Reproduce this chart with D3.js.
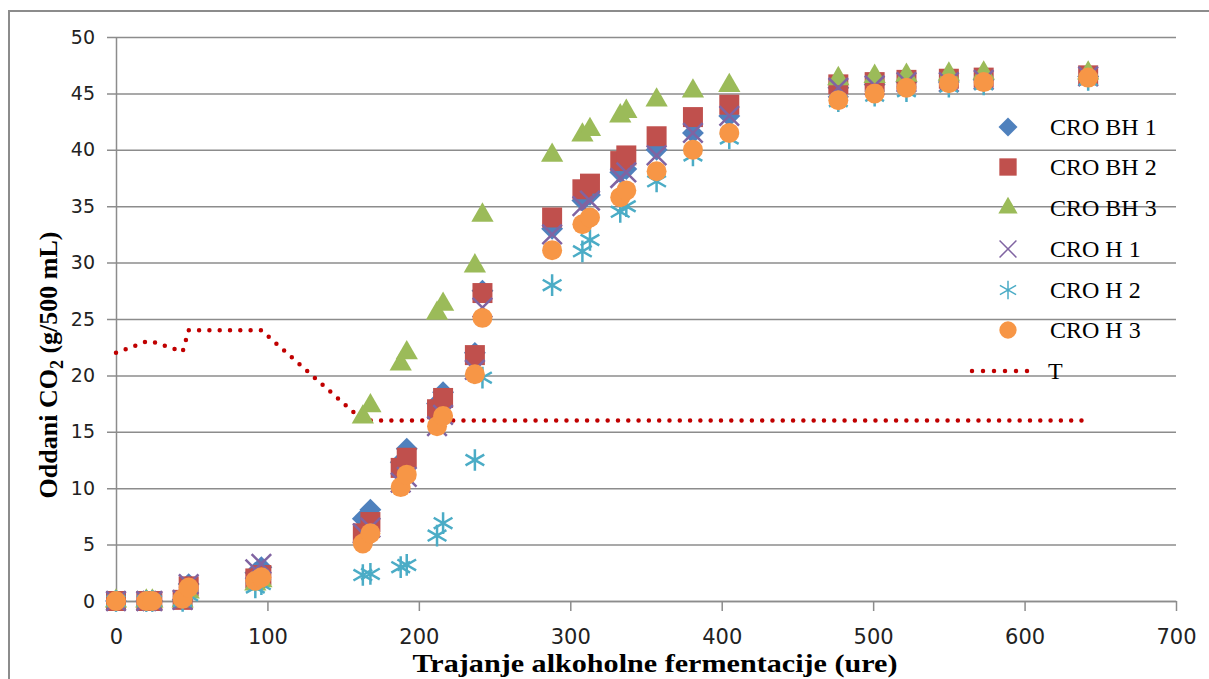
<!DOCTYPE html>
<html>
<head>
<meta charset="utf-8">
<script src="https://cdn.jsdelivr.net/npm/d3@7"></script>
<style>
  body { margin: 0; background: #fff; }
  svg { display: block; }
</style>
</head>
<body>
<svg id="chart" width="1209" height="679"></svg>
<script>
// measurement times (hours)
let hours = [0, 20, 24, 44, 48, 92, 96, 163, 168, 188, 192, 212, 216, 237, 242, 288, 308, 313, 333, 337, 357, 381, 405, 477, 501, 522, 550, 573, 642];

// released CO2 (g/500 mL)
let cro_bh1 = [0, 0, 0, 0.1, 1.5, 2.5, 3.0, 7.3, 8.1, 12.3, 13.5, 17.5, 18.5, 22.0, 27.5, 33.0, 35.5, 36.0, 38.0, 38.3, 40.0, 41.5, 43.0, 45.5, 45.8, 46.0, 46.0, 46.2, 46.5];
let cro_bh2 = [0, 0, 0, 0.1, 1.3, 2.0, 2.3, 6.0, 7.0, 11.8, 12.7, 17.0, 18.0, 21.8, 27.3, 34.0, 36.5, 37.0, 39.0, 39.5, 41.2, 42.9, 44.0, 45.8, 46.0, 46.2, 46.3, 46.4, 46.6];
let cro_bh3 = [0, 0, 0, 0, 0.8, 1.5, 1.8, 16.3, 17.3, 21.0, 22.0, 25.5, 26.3, 29.7, 34.2, 39.5, 41.3, 41.8, 43.0, 43.4, 44.4, 45.2, 45.7, 46.3, 46.5, 46.6, 46.7, 46.8, 46.8];
let cro_h1 = [0, 0, 0, 0.1, 1.5, 2.8, 3.3, 6.0, 6.5, 10.5, 11.0, 15.5, 16.5, 20.5, 26.0, 32.5, 35.0, 35.5, 37.5, 38.0, 39.5, 41.5, 43.0, 45.5, 45.7, 46.0, 46.0, 46.2, 46.5];
let cro_h2 = [0, 0, 0, 0, 0.5, 1.2, 1.5, 2.3, 2.4, 3.0, 3.2, 5.8, 6.9, 12.5, 19.8, 28.0, 31.0, 32.0, 34.5, 35.0, 37.2, 39.5, 41.0, 44.3, 44.8, 45.2, 45.6, 45.8, 46.2];
let cro_h3 = [0, 0, 0, 0.2, 1.2, 1.8, 2.1, 5.1, 6.0, 10.1, 11.2, 15.5, 16.4, 20.1, 25.1, 31.1, 33.4, 34.0, 35.8, 36.4, 38.1, 40.0, 41.5, 44.4, 45.0, 45.5, 45.9, 46.0, 46.4];

// temperature line T
let temp_hours = [0, 20, 24, 44, 48, 92, 96, 163, 168, 642];
let temp_vals = [22, 23, 23, 22.1, 24, 24, 24, 16, 16, 16];

let series_names = ['CRO BH 1', 'CRO BH 2', 'CRO BH 3', 'CRO H 1', 'CRO H 2', 'CRO H 3'];
let x_ticks = [0, 100, 200, 300, 400, 500, 600, 700];
let y_ticks = [0, 5, 10, 15, 20, 25, 30, 35, 40, 45, 50];

let svg = d3.select('#chart');
let grid_color = '#8c8c8c';

let x = d3.scaleLinear().domain([0, 700]).range([116, 1176]);
let y = d3.scaleLinear().domain([0, 50]).range([601, 37]);

// outer chart border (only left / top visible)
svg.append('rect').attr('x', 9).attr('y', 11).attr('width', 1230).attr('height', 700)
  .attr('fill', 'none').attr('stroke', grid_color).attr('stroke-width', 2);

// horizontal grid lines with left ticks
let grid = svg.append('g').attr('transform', 'translate(107,0)')
  .call(d3.axisRight(y).tickValues(y_ticks).tickSize(x(700) - 107).tickFormat(''));
grid.select('.domain').remove();
grid.selectAll('line').attr('stroke', grid_color).attr('stroke-width', 1.5);

// y axis line + labels
let y_axis = svg.append('g').attr('transform', 'translate(116,0)')
  .call(d3.axisLeft(y).tickValues(y_ticks).tickSize(0).tickPadding(21));
y_axis.select('.domain').attr('stroke', grid_color).attr('stroke-width', 1.5);
y_axis.selectAll('text').attr('font-family', 'DejaVu Sans, Verdana, sans-serif')
  .attr('font-size', 19).attr('fill', '#222');

// x axis
let x_axis = svg.append('g').attr('transform', 'translate(0,601)')
  .call(d3.axisBottom(x).tickValues(x_ticks).tickSize(10).tickSizeOuter(0).tickPadding(18));
x_axis.select('.domain').attr('stroke', grid_color).attr('stroke-width', 1.5);
x_axis.selectAll('line').attr('stroke', grid_color).attr('stroke-width', 1.5);
x_axis.selectAll('text').attr('font-family', 'DejaVu Sans, Verdana, sans-serif')
  .attr('font-size', 21).attr('fill', '#222');

// axis titles
svg.append('text').attr('x', 655).attr('y', 672).attr('text-anchor', 'middle')
  .attr('font-family', 'Liberation Serif, Times New Roman, serif').attr('font-weight', 'bold')
  .attr('font-size', 25).attr('textLength', 485).attr('lengthAdjust', 'spacingAndGlyphs')
  .text('Trajanje alkoholne fermentacije (ure)');

let y_title = svg.append('text').attr('transform', 'translate(57,365) rotate(-90)')
  .attr('text-anchor', 'middle')
  .attr('font-family', 'Liberation Serif, Times New Roman, serif').attr('font-weight', 'bold')
  .attr('font-size', 26);
y_title.append('tspan').text('Oddani CO');
y_title.append('tspan').attr('font-size', 18).attr('dy', 6).text('2');
y_title.append('tspan').attr('dy', -6).text(' (g/500 mL)');

// marker shapes
let diamond = {
  draw: function(ctx, size){
    let r = Math.sqrt(size / 2);
    ctx.moveTo(0, -r); ctx.lineTo(r, 0); ctx.lineTo(0, r); ctx.lineTo(-r, 0); ctx.closePath();
  }
};
let styles = [
  {type: diamond, size: 240, fill: '#4F81BD', stroke: null},
  {type: d3.symbolSquare, size: 400, fill: '#C0504D', stroke: null},
  {type: d3.symbolTriangle, size: 215, fill: '#9BBB59', stroke: null},
  {type: d3.symbolTimes, size: 250, fill: 'none', stroke: '#8064A2'},
  {type: d3.symbolAsterisk, size: 330, fill: 'none', stroke: '#4BACC6'},
  {type: d3.symbolCircle, size: 314, fill: '#F79646', stroke: null}
];
let series_data = [cro_bh1, cro_bh2, cro_bh3, cro_h1, cro_h2, cro_h3];

// T dotted line
let line = d3.line().x(d => x(d[0])).y(d => y(d[1]));
svg.append('path').datum(d3.zip(temp_hours, temp_vals)).attr('d', line)
  .attr('fill', 'none').attr('stroke', '#C00000').attr('stroke-width', 4.5)
  .attr('stroke-linecap', 'round').attr('stroke-dasharray', '0 10.3');

// scatter points
series_data.forEach(function(vals, si){
  let st = styles[si];
  svg.append('g').selectAll('path').data(d3.zip(hours, vals)).enter().append('path')
    .attr('transform', d => 'translate(' + x(d[0]) + ',' + y(d[1]) + ')')
    .attr('d', d3.symbol().type(st.type).size(st.size))
    .attr('fill', st.fill)
    .attr('stroke', st.stroke ? st.stroke : 'none')
    .attr('stroke-width', st.stroke ? 2.5 : 0);
});

// legend
let legend_y = [127, 167, 208, 249, 290, 330];
let legend = svg.append('g');
series_names.forEach(function(name, i){
  let st = styles[i];
  legend.append('path').attr('transform', 'translate(1008,' + legend_y[i] + ')')
    .attr('d', d3.symbol().type(st.type).size(st.size * 0.75))
    .attr('fill', st.fill)
    .attr('stroke', st.stroke ? st.stroke : 'none')
    .attr('stroke-width', st.stroke ? 1.5 : 0);
  legend.append('text').attr('x', 1050).attr('y', legend_y[i] + 8)
    .attr('font-family', 'Liberation Serif, Times New Roman, serif').attr('font-size', 24)
    .text(name);
});
legend.append('line').attr('x1', 972).attr('x2', 1038).attr('y1', 371).attr('y2', 371)
  .attr('stroke', '#C00000').attr('stroke-width', 4.5).attr('stroke-linecap', 'round')
  .attr('stroke-dasharray', '0 11');
legend.append('text').attr('x', 1048).attr('y', 379)
  .attr('font-family', 'Liberation Serif, Times New Roman, serif').attr('font-size', 24)
  .text('T');
</script>
</body>
</html>
